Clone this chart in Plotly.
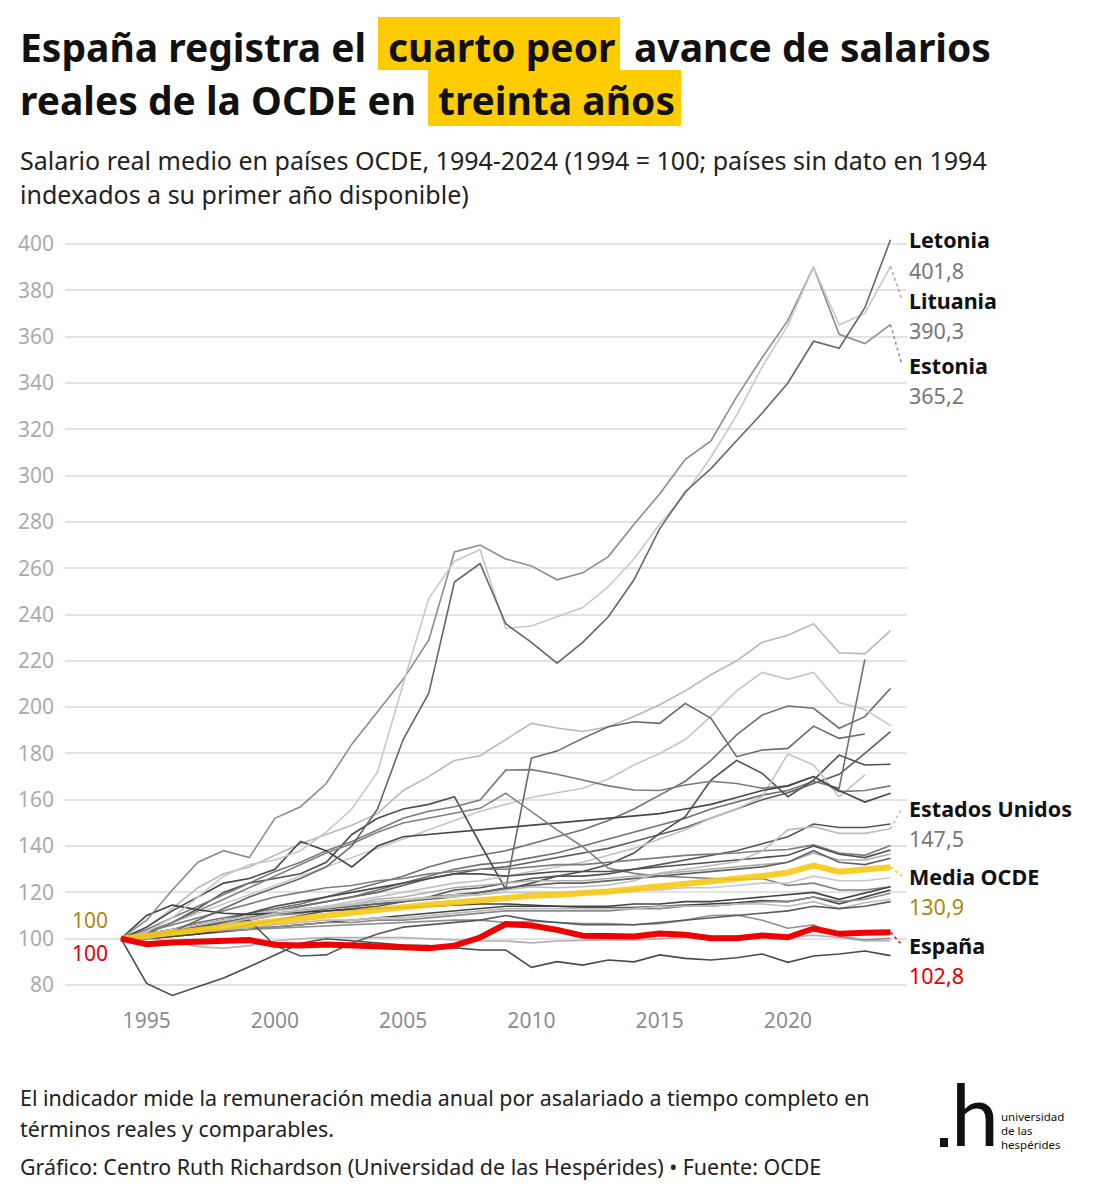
import plotly.graph_objects as go

# ---------------- DATA ----------------
years = [1994, 1995, 1996, 1997, 1998, 1999, 2000, 2001, 2002, 2003, 2004, 2005, 2006, 2007, 2008,
         2009, 2010, 2011, 2012, 2013, 2014, 2015, 2016, 2017, 2018, 2019, 2020, 2021, 2022, 2023, 2024]

espana = [100, 97.6, 98.3, 98.8, 99.4, 99.4, 97.4, 97.1, 97.5, 97.1, 96.2, 96.0, 95.9, 97.0, 100.5, 106.3,
          105.7, 103.8, 101.3, 101.2, 100.9, 102.2, 101.7, 100.2, 100.2, 101.4, 100.6, 104.4, 102.1, 102.6, 102.8]
media_ocde = [100, 101.4, 102.6, 103.8, 105.0, 106.3, 107.6, 108.8, 110.0, 111.2, 112.4, 113.6, 114.7, 115.8,
              116.8, 117.8, 118.5, 119.0, 119.6, 120.4, 121.5, 122.6, 123.4, 124.4, 125.7, 127.1, 128.6, 131.6,
              128.9, 129.6, 130.9]
letonia = [100, 101, 103, 108, 113, 118, 122, 126, 131, 140, 156, 186, 206, 254, 262, 236, 228, 219, 228, 239,
           255, 277, 293, 303, 315, 327, 340, 358, 355, 372.5, 401.8]
lituania = [100, 103, 109, 118, 127, 132, 134, 138, 146, 156, 172, 210, 247, 263, 268, 234, 235, 239, 243, 252,
            264, 279, 292, 308, 326, 347, 365, 390, 365, 370, 390.3]
estonia = [100, 108, 121, 133, 138, 135, 152, 157, 167, 184, 198, 212, 229, 267, 270, 264, 261, 255, 258, 265,
           279, 292, 307, 315, 334, 351, 367, 390, 361, 357, 365.2]
estados_unidos = [100, 100.6, 101.8, 103.6, 106.4, 108.6, 111, 112, 113.2, 114.6, 116, 116.5, 117.6, 119, 119,
                  121, 122.4, 122, 122.4, 123.2, 125, 128.4, 130, 131.6, 133.2, 137.8, 147, 148.4, 145.5, 145.5, 147.5]
pais_01 = [100, 80.7, 75.5, 79.3, 83, 87.9, 93, 98, 100, 99, 98, 97.3, 97, 96, 95.1, 95.1, 87.6, 90.1, 88.6,
           90.8, 90, 93, 91.5, 90.8, 91.8, 93.4, 89.8, 92.5, 93.4, 94.7, 92.7]
pais_02 = [100, 105, 113, 122, 128, 131, 136, 141, 145, 149, 154, 164, 170, 177, 179, 186, 193, 191, 189.5,
           191.5, 196, 201, 207, 214, 220, 228, 231, 236, 223.5, 223, 233]
pais_03 = [100, 102, 104, 107, 109, 111, 113, 115, 118, 121, 124, 127, 131, 134, 136, 138, 141, 144, 147, 151,
           156, 162, 168, 177, 188, 196.6, 200.5, 199.5, 190.9, 195.9, 208.1]
pais_04 = [100, 103, 107, 111, 115, 119, 123, 127, 131, 135, 139, 143, 147, 151, 155, 158, 161, 163, 165, 169,
           175, 180, 186, 196, 207, 215, 212, 215, 202, 199, 192]
pais_05 = [100, 101, 103, 105, 107, 109, 112, 114, 116, 118, 120, 123, 126, 128, 130, 131, 133, 135, 137, 139,
           142, 145, 148, 152, 156, 160, 163, 167, 171, 180, 189.4]
pais_06 = [100, 101, 103, 105, 106, 108, 110, 111, 113, 114, 115, 116, 117, 118, 120, 121.6, 178, 181, 186.5,
           191.5, 193.7, 193, 201.6, 195.2, 178.6, 181.5, 182.2, 191.8, 186.5, 188.4, None]
pais_07 = [100, 102, 104, 106, 108, 110, 112, 114, 116, 118, 121, 124, 127, 130, 132, 133, 135, 137, 140, 143,
           146, 149, 152, 156, 159, 162, 164, 168, 165, 220.6, None]
pais_08 = [100, 102, 107, 113, 120, 124, 126, 128, 133, 145, 152, 156, 158, 161.3, 141, 121.3, 124, 127, 129,
           132, 137, 145.5, 152.7, 168.5, 177, 171.4, 161.3, 168.5, 179.3, 175, 175.3]
pais_09 = [100, 101, 102, 104, 106, 108, 110, 112, 114, 116, 118, 120, 122, 124, 125, 127, 129, 131, 133, 136,
           139, 143, 147, 152, 156, 161.3, 179.8, 175, 161.3, 170.7, None]
pais_10 = [100, 104, 109, 114, 119, 124, 129, 133, 138, 142, 147, 152, 155, 157, 159.9, 172.8, 173, 171, 168.5,
           166, 164.2, 164, 166.4, 168, 167, 165, 166, 170, 163.5, 164, 166]
pais_11 = [100, 105, 112, 118, 124, 126, 130, 142, 138, 131, 140, 144, 145, 146, 147, 148, 149, 150, 151, 152,
           153, 154, 156, 158, 161, 164, 166, 170, 164, 159, 162.8]
pais_12 = [100, 103, 107, 112, 117, 122, 127, 132, 137, 141, 146, 150, 152, 154, 156.3, 162.8, 155, 147, 139.7,
           130.4, 128.2, 127, 126.5, 126, 125.5, 126, 123, 124, 121, 121, 122.4]
pais_13 = [100, 100, 101, 102, 104, 106, 108, 110, 112, 113, 114, 116, 118, 121, 122, 124, 126, 127, 127, 128,
           130, 132, 134, 136, 138, 141, 144, 149.5, 148, 148, 149.5]
pais_14 = [100, 103, 106, 109, 112, 115, 118, 120, 122, 123, 125, 126, 128, 129, 130, 130, 131, 132, 132, 133,
           134, 135, 136, 136.5, 137, 138, 138.5, 140.5, 137, 136, 140.2]
pais_15 = [100, 102, 104, 106, 108, 111, 114, 116, 118, 120, 122, 124, 126, 128, 128, 127, 128, 129, 129, 129,
           130, 131, 132, 133, 134, 135, 136, 140, 136.5, 135, 138.3]
pais_16 = [100, 101, 102, 104, 106, 108, 110, 112, 114, 115, 117, 118, 120, 122, 123, 124, 125, 125, 125, 126,
           127, 128, 129, 130, 131, 132, 133, 137, 134, 134, 136.6]
pais_17 = [100, 101, 103, 105, 107, 109, 111, 112, 113, 114, 115, 116, 118, 119, 120, 122, 123, 124, 124, 125,
           126, 127, 128, 129, 130, 131, 133, 138, 133, 132, 134.7]
pais_18 = [100, 102, 104, 106, 108, 110, 112, 113, 114, 115, 116, 117, 118, 118, 119, 120, 120, 120, 120, 120,
           121, 121, 122, 122, 123, 124, 124, 127, 125, 125, 126.3]
pais_19 = [100, 100, 101, 102, 103, 104, 105, 106, 107, 108, 109, 110, 111, 112, 113, 114, 114, 114, 114, 114,
           115, 115, 116, 116, 117, 118, 119, 120, 117, 119.6, 122.4]
pais_20 = [100, 110, 114.5, 112.5, 111, 110.5, 111, 111.5, 112, 112.5, 113, 113.5, 114, 114.5, 115, 115, 114.5,
           114, 113.5, 113.5, 113.5, 114, 114.5, 115, 115.5, 116.5, 116, 118, 115, 118, 121]
pais_21 = [100, 102, 103, 104, 104, 105, 105, 106, 107, 107, 108, 108, 109, 110, 111, 112, 112, 112, 112, 112,
           113, 113, 114, 114, 115, 116, 116, 118, 116, 117, 119.6]
pais_22 = [100, 101, 102, 103, 104, 105, 106, 107, 108, 108, 109, 109, 110, 111, 112, 113, 113, 113, 113, 113,
           113, 114, 114, 114, 115, 115, 114, 116, 113, 115.5, 117]
pais_23 = [100, 101, 102, 103, 103.5, 104, 104.5, 105, 105.5, 106, 106.5, 107, 107.5, 108, 108, 107, 107.5, 107,
           106.5, 106.5, 106, 106.5, 108, 110, 110.2, 108, 104.5, 106, 101, 99.5, 100.2]
pais_24 = [100, 100, 99, 96.5, 95.9, 97, 99, 100, 100.5, 100.5, 100.5, 100.5, 100, 99.5, 99, 99, 98.2, 99, 99.4,
           99.5, 99.5, 100, 100.5, 101, 101, 101.5, 100.5, 101.5, 100.5, 99, 99.1]
pais_25 = [100, 101, 103, 105, 107, 108, 97, 92.5, 93, 98, 102, 105, 106, 107, 108, 110, 108, 107, 106, 106,
           106, 107, 108, 109, 110, 111, 112, 114, 113, 114, 116]

tick_years = [1995, 2000, 2005, 2010, 2015, 2020]
tick_values = [80, 100, 120, 140, 160, 180, 200, 220, 240, 260, 280, 300, 320, 340, 360, 380, 400]

# ---------------- STYLE ----------------
FONT = "Noto Sans"
gray_series = [
    (pais_01, "#4a4a4a"), (pais_02, "#b8b8b8"), (pais_03, "#707070"), (pais_04, "#c6c6c6"),
    (pais_05, "#5f5f5f"), (pais_06, "#686868"), (pais_07, "#727272"), (pais_08, "#4e4e4e"),
    (pais_09, "#c2c2c2"), (pais_10, "#7a7a7a"), (pais_11, "#474747"), (pais_12, "#808080"),
    (pais_13, "#555555"), (pais_14, "#7d7d7d"), (pais_15, "#4f4f4f"), (pais_16, "#adadad"),
    (pais_17, "#626262"), (pais_18, "#c8c8c8"), (pais_19, "#444444"), (pais_20, "#3f3f3f"),
    (pais_21, "#8a8a8a"), (pais_22, "#bcbcbc"), (pais_23, "#8f8f8f"), (pais_24, "#b0b0b0"),
    (pais_25, "#5a5a5a"),
    (estados_unidos, "#bdbdbd"), (estonia, "#8c8c8c"), (lituania, "#c8c8c8"), (letonia, "#666666"),
]
YELLOW = "#F7C915"
RED = "#EE0000"

fig = go.Figure()
for vals, col in gray_series:
    fig.add_trace(go.Scatter(x=years, y=vals, mode="lines", line=dict(color=col, width=1.6),
                             hoverinfo="skip", showlegend=False))
fig.add_trace(go.Scatter(x=years, y=media_ocde, mode="lines", line=dict(color=YELLOW, width=6),
                         opacity=0.9, showlegend=False))
fig.add_trace(go.Scatter(x=years, y=espana, mode="lines", line=dict(color=RED, width=6),
                         showlegend=False))

# geometry helpers (plot area: x 65..907 px, y 236..1000 px)
L, R, T, B = 65, 198, 236, 199
W, H = 1105, 1199
PW, PH = W - L - R, H - T - B


def pxx(x):
    return (x - L) / PW


def pxy(y):
    return (H - B - y) / PH


def yv(py):
    return 80 + (985 - py) / 2.3156


annotations = []
shapes = []

# Title with highlights
shapes.append(dict(type="rect", xref="paper", yref="paper", x0=pxx(378), x1=pxx(620), y0=pxy(70), y1=pxy(17),
                   fillcolor="#FFCC00", line=dict(width=0), layer="below"))
shapes.append(dict(type="rect", xref="paper", yref="paper", x0=pxx(428), x1=pxx(681), y0=pxy(126), y1=pxy(70),
                   fillcolor="#FFCC00", line=dict(width=0), layer="below"))
title_parts = [("España registra el", 18, 46), ("cuarto peor", 386, 46), ("avance de salarios", 632, 46),
               ("reales de la OCDE en", 18, 99), ("treinta años", 436, 99)]
for txt, x, y in title_parts:
    annotations.append(dict(text=f"<b>{txt}</b>", xref="paper", yref="paper", x=pxx(x), y=pxy(y),
                            xanchor="left", yanchor="middle", showarrow=False,
                            font=dict(family=FONT, size=39, color="#111111")))

# Subtitle
for txt, y in [("Salario real medio en países OCDE, 1994-2024 (1994 = 100; países sin dato en 1994", 160),
               ("indexados a su primer año disponible)", 194)]:
    annotations.append(dict(text=txt, xref="paper", yref="paper", x=pxx(18), y=pxy(y), xanchor="left",
                            yanchor="middle", showarrow=False, font=dict(family=FONT, size=25, color="#222222")))

# Footer
for txt, y in [("El indicador mide la remuneración media anual por asalariado a tiempo completo en", 1097),
               ("términos reales y comparables.", 1128),
               ("Gráfico: Centro Ruth Richardson (Universidad de las Hespérides) • Fuente: OCDE", 1166)]:
    annotations.append(dict(text=txt, xref="paper", yref="paper", x=pxx(18), y=pxy(y), xanchor="left",
                            yanchor="middle", showarrow=False, font=dict(family=FONT, size=21.4, color="#222222")))

# Logo
annotations.append(dict(text="h", xref="paper", yref="paper", x=pxx(949), y=pxy(1166), xanchor="left",
                        yanchor="bottom", showarrow=False, font=dict(family="Lato", size=86, color="#111111")))
shapes.append(dict(type="rect", xref="paper", yref="paper", x0=pxx(940), x1=pxx(948), y0=pxy(1147),
                   y1=pxy(1138), fillcolor="#111111", line=dict(width=0)))
for txt, y in [("universidad", 1116), ("de las", 1130), ("hespérides", 1144)]:
    annotations.append(dict(text=txt, xref="paper", yref="paper", x=pxx(999), y=pxy(y), xanchor="left",
                            yanchor="middle", showarrow=False, font=dict(family=FONT, size=11.5, color="#111111")))

# End labels (name, value text, label centre in px, last value, value colour, leader colour)
end_labels = [
    ("Letonia", "401,8", 240, letonia[-1], "#777777", "#8a8a8a"),
    ("Lituania", "390,3", 300, lituania[-1], "#777777", "#aaaaaa"),
    ("Estonia", "365,2", 365, estonia[-1], "#777777", "#8a8a8a"),
    ("Estados Unidos", "147,5", 808, estados_unidos[-1], "#777777", "#bbbbbb"),
    ("Media OCDE", "130,9", 876, media_ocde[-1], "#A8890F", YELLOW),
    ("España", "102,8", 945, espana[-1], "#E00000", RED),
]
x_lead = 1994 + (902 - 121) / 25.65
for name, val, ycen, last, vcol, lcol in end_labels:
    annotations.append(dict(text=f"<b>{name}</b>", x=pxx(907), y=pxy(ycen), xref="paper", yref="paper",
                            xanchor="left", yanchor="middle", showarrow=False,
                            font=dict(family=FONT, size=21.5, color="#111111")))
    annotations.append(dict(text=val, x=pxx(907), y=pxy(ycen + 30), xref="paper", yref="paper", xanchor="left",
                            yanchor="middle", showarrow=False, font=dict(family=FONT, size=21.5, color=vcol)))
    if abs(yv(ycen) - last) > 2:
        shapes.append(dict(type="line", xref="x", yref="y", x0=2024, y0=last, x1=x_lead, y1=yv(ycen),
                           line=dict(color=lcol, width=1.5, dash="dot")))

# Start labels
annotations.append(dict(text="100", x=1993.57, y=yv(920), xref="x", yref="y", xanchor="right", yanchor="middle",
                        showarrow=False, font=dict(family=FONT, size=21, color="#A8890F")))
annotations.append(dict(text="100", x=1993.57, y=yv(953), xref="x", yref="y", xanchor="right", yanchor="middle",
                        showarrow=False, font=dict(family=FONT, size=21, color="#E00000")))

fig.update_layout(
    width=W, height=H,
    margin=dict(l=L, r=R, t=T, b=B),
    paper_bgcolor="white", plot_bgcolor="white",
    font=dict(family=FONT),
    showlegend=False,
    annotations=annotations,
    shapes=shapes,
    xaxis=dict(range=[1994 + (65 - 121) / 25.65, 1994 + (907 - 121) / 25.65], tickvals=tick_years,
               showgrid=False, zeroline=False, showline=False, ticks="",
               tickfont=dict(family=FONT, size=21, color="#8c8c8c"), ticklabelstandoff=6),
    yaxis=dict(range=[yv(1000), yv(236)], tickvals=tick_values, showgrid=True, gridcolor="#e3e3e3",
               gridwidth=1.5, zeroline=False, showline=False, ticks="",
               tickfont=dict(family=FONT, size=21, color="#ababab"), ticklabelstandoff=10),
)

fig.write_html("out.html")
